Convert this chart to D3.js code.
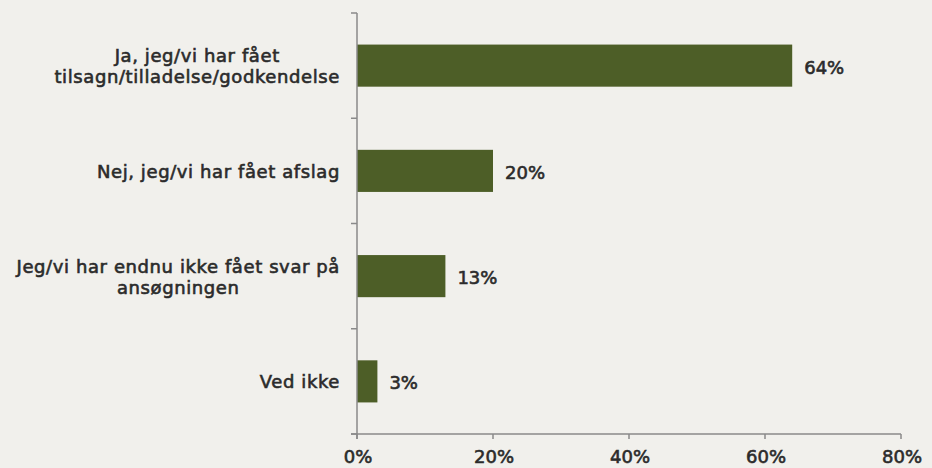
<!DOCTYPE html>
<html><head><meta charset="utf-8">
<script src="https://cdn.jsdelivr.net/npm/d3@7"></script>
<style>
html,body{margin:0;padding:0;background:#f1f0ec;}
svg{display:block;}
text{font-weight:normal;fill:#2b2b2b;stroke:#2b2b2b;stroke-width:0.6px;}
.cat{font-family:"DejaVu Sans",sans-serif;letter-spacing:0.6px;}
.num{font-family:"DejaVu Sans",sans-serif;}
</style></head>
<body>
<script>
const categories = [
  ["Ja, jeg/vi har fået", "tilsagn/tilladelse/godkendelse"],
  ["Nej, jeg/vi har fået afslag"],
  ["Jeg/vi har endnu ikke fået svar på", "ansøgningen"],
  ["Ved ikke"]
];
const values = [64, 20, 13, 3];
const valueLabels = ["64%", "20%", "13%", "3%"];
const xTicks = [0, 20, 40, 60, 80];
const xTickLabels = ["0%", "20%", "40%", "60%", "80%"];

const W = 932, H = 468;
const x0 = 357, x1 = 901, yTop = 13, yBot = 434;
const svg = d3.select("body").append("svg").attr("width", W).attr("height", H);

const x = d3.scaleLinear().domain([0, 80]).range([x0, x1]);
const y = d3.scaleBand().domain(d3.range(values.length)).range([yTop, yBot]).paddingInner(0.6).paddingOuter(0.3);
const yb = d3.scaleBand().domain(d3.range(values.length)).range([yTop, yBot]);

svg.selectAll("rect.bar").data(values).enter().append("rect")
  .attr("x", x(0)).attr("y", (d,i)=>y(i)).attr("width", d=>x(d)-x(0)).attr("height", y.bandwidth())
  .attr("fill", "#4d5e27");

const axisColor = "#8a8a8a";
svg.append("line").attr("x1", x0).attr("x2", x0).attr("y1", yTop).attr("y2", yBot+5)
  .attr("stroke", axisColor).attr("stroke-width", 1.5);
const bounds = d3.range(values.length+1).map(i => i < values.length ? yb(i) : yBot);
svg.selectAll("line.ytick").data(bounds).enter().append("line")
  .attr("x1", x0-6).attr("x2", x0).attr("y1", d=>d).attr("y2", d=>d)
  .attr("stroke", axisColor).attr("stroke-width", 1.5);

svg.append("line").attr("x1", x0-6).attr("x2", x1).attr("y1", yBot).attr("y2", yBot)
  .attr("stroke", axisColor).attr("stroke-width", 1.5);
svg.selectAll("line.xtick").data(xTicks).enter().append("line")
  .attr("x1", d=>x(d)).attr("x2", d=>x(d)).attr("y1", yBot).attr("y2", yBot+5)
  .attr("stroke", axisColor).attr("stroke-width", 1.5);
svg.selectAll("text.xt").data(xTickLabels).enter().append("text").attr("class","num")
  .attr("x", (d,i)=>x(xTicks[i])+1).attr("y", yBot+29)
  .attr("text-anchor", "middle").style("font-size", "18px").text(d=>d);

svg.selectAll("text.val").data(valueLabels).enter().append("text").attr("class","num")
  .attr("x", (d,i)=>x(values[i])+12).attr("y", (d,i)=>y(i)+y.bandwidth()/2+8)
  .style("font-size", "18px").text(d=>d);

const labelRight = 340;
categories.forEach((lines, i) => {
  const cy = y(i) + y.bandwidth()/2;
  const g = svg.append("g");
  const texts = lines.map((t, j) => g.append("text").attr("class","cat")
    .attr("y", cy + 7 + (j - (lines.length-1)/2) * 21)
    .style("font-size", "18px").text(t));
  const widths = texts.map(t => t.node().getComputedTextLength());
  const maxW = d3.max(widths);
  texts.forEach(t => t.attr("x", labelRight - maxW/2).attr("text-anchor", "middle"));
});
</script>
</body></html>
